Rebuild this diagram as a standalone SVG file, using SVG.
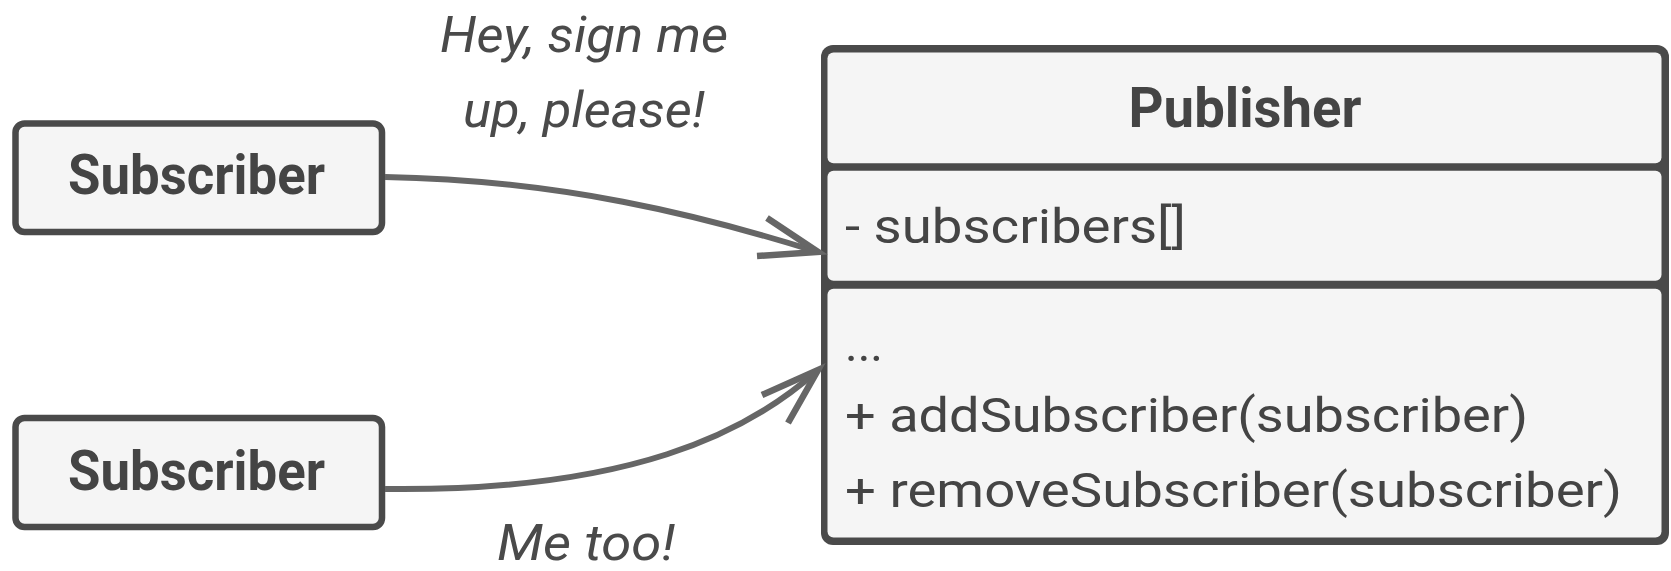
<svg xmlns="http://www.w3.org/2000/svg" width="1671" height="571" viewBox="0 0 1671 571">
<style>
.box{fill:#f5f5f5;stroke:#4a4a4a;stroke-width:6.5}
.frame{fill:#4a4a4a}
.cell{fill:#f5f5f5}
.bold{font-family:Roboto,"Liberation Sans",sans-serif;font-weight:bold;font-size:55px;fill:#444}
.reg{font-family:Roboto,"Liberation Sans",sans-serif;font-size:48px;fill:#444}
.ital{font-family:Roboto,"Liberation Sans",sans-serif;font-style:italic;font-size:50px;fill:#4a4a4a}
.conn{fill:none;stroke:#666;stroke-width:6;stroke-linecap:butt;stroke-linejoin:miter}
.head{fill:none;stroke:#666;stroke-width:6.5;stroke-linecap:butt;stroke-linejoin:miter}
</style>
<rect width="1671" height="571" fill="#ffffff"/>
<g id="subscriber1">
<rect class="box" x="15.5" y="123.5" width="366.5" height="108.5" rx="9"/>
<text class="bold" x="196.5" y="194" text-anchor="middle" textLength="257" lengthAdjust="spacingAndGlyphs">Subscriber</text>
</g>
<g id="subscriber2">
<rect class="box" x="15.5" y="418" width="366.5" height="109" rx="9"/>
<text class="bold" x="196.5" y="490" text-anchor="middle" textLength="257" lengthAdjust="spacingAndGlyphs">Subscriber</text>
</g>
<g id="publisher">
<rect class="frame" x="821" y="45" width="848" height="500" rx="12"/>
<rect class="cell" x="827.5" y="52.5" width="834" height="110.8" rx="6"/>
<rect class="cell" x="827.5" y="170.7" width="834" height="110" rx="6"/>
<rect class="cell" x="827.5" y="288.7" width="834" height="248.8" rx="6"/>
<text class="bold" x="1245" y="127" text-anchor="middle" textLength="233" lengthAdjust="spacingAndGlyphs">Publisher</text>
<text class="reg" x="845" y="243" textLength="341" lengthAdjust="spacingAndGlyphs">- subscribers[]</text>
<text class="reg" x="845" y="361" textLength="38" lengthAdjust="spacingAndGlyphs">...</text>
<text class="reg" x="845" y="432" textLength="683" lengthAdjust="spacingAndGlyphs">+ addSubscriber(subscriber)</text>
<text class="reg" x="845" y="507" textLength="777" lengthAdjust="spacingAndGlyphs">+ removeSubscriber(subscriber)</text>
</g>
<g id="connectors">
<path class="conn" d="M385,177 C560,180 700,215 818,252"/>
<path class="head" d="M767,218 L818,252 L757,256"/>
<path class="conn" d="M385,489 C630,492 748,433 818,370"/>
<path class="head" d="M762,395 L818,370 L788,423"/>
</g>
<g id="labels">
<text class="ital" x="584" y="52" text-anchor="middle" textLength="288" lengthAdjust="spacingAndGlyphs">Hey, sign me</text>
<text class="ital" x="584" y="127" text-anchor="middle" textLength="242" lengthAdjust="spacingAndGlyphs">up, please!</text>
<text class="ital" x="586" y="560" text-anchor="middle" textLength="178" lengthAdjust="spacingAndGlyphs">Me too!</text>
</g>
</svg>
